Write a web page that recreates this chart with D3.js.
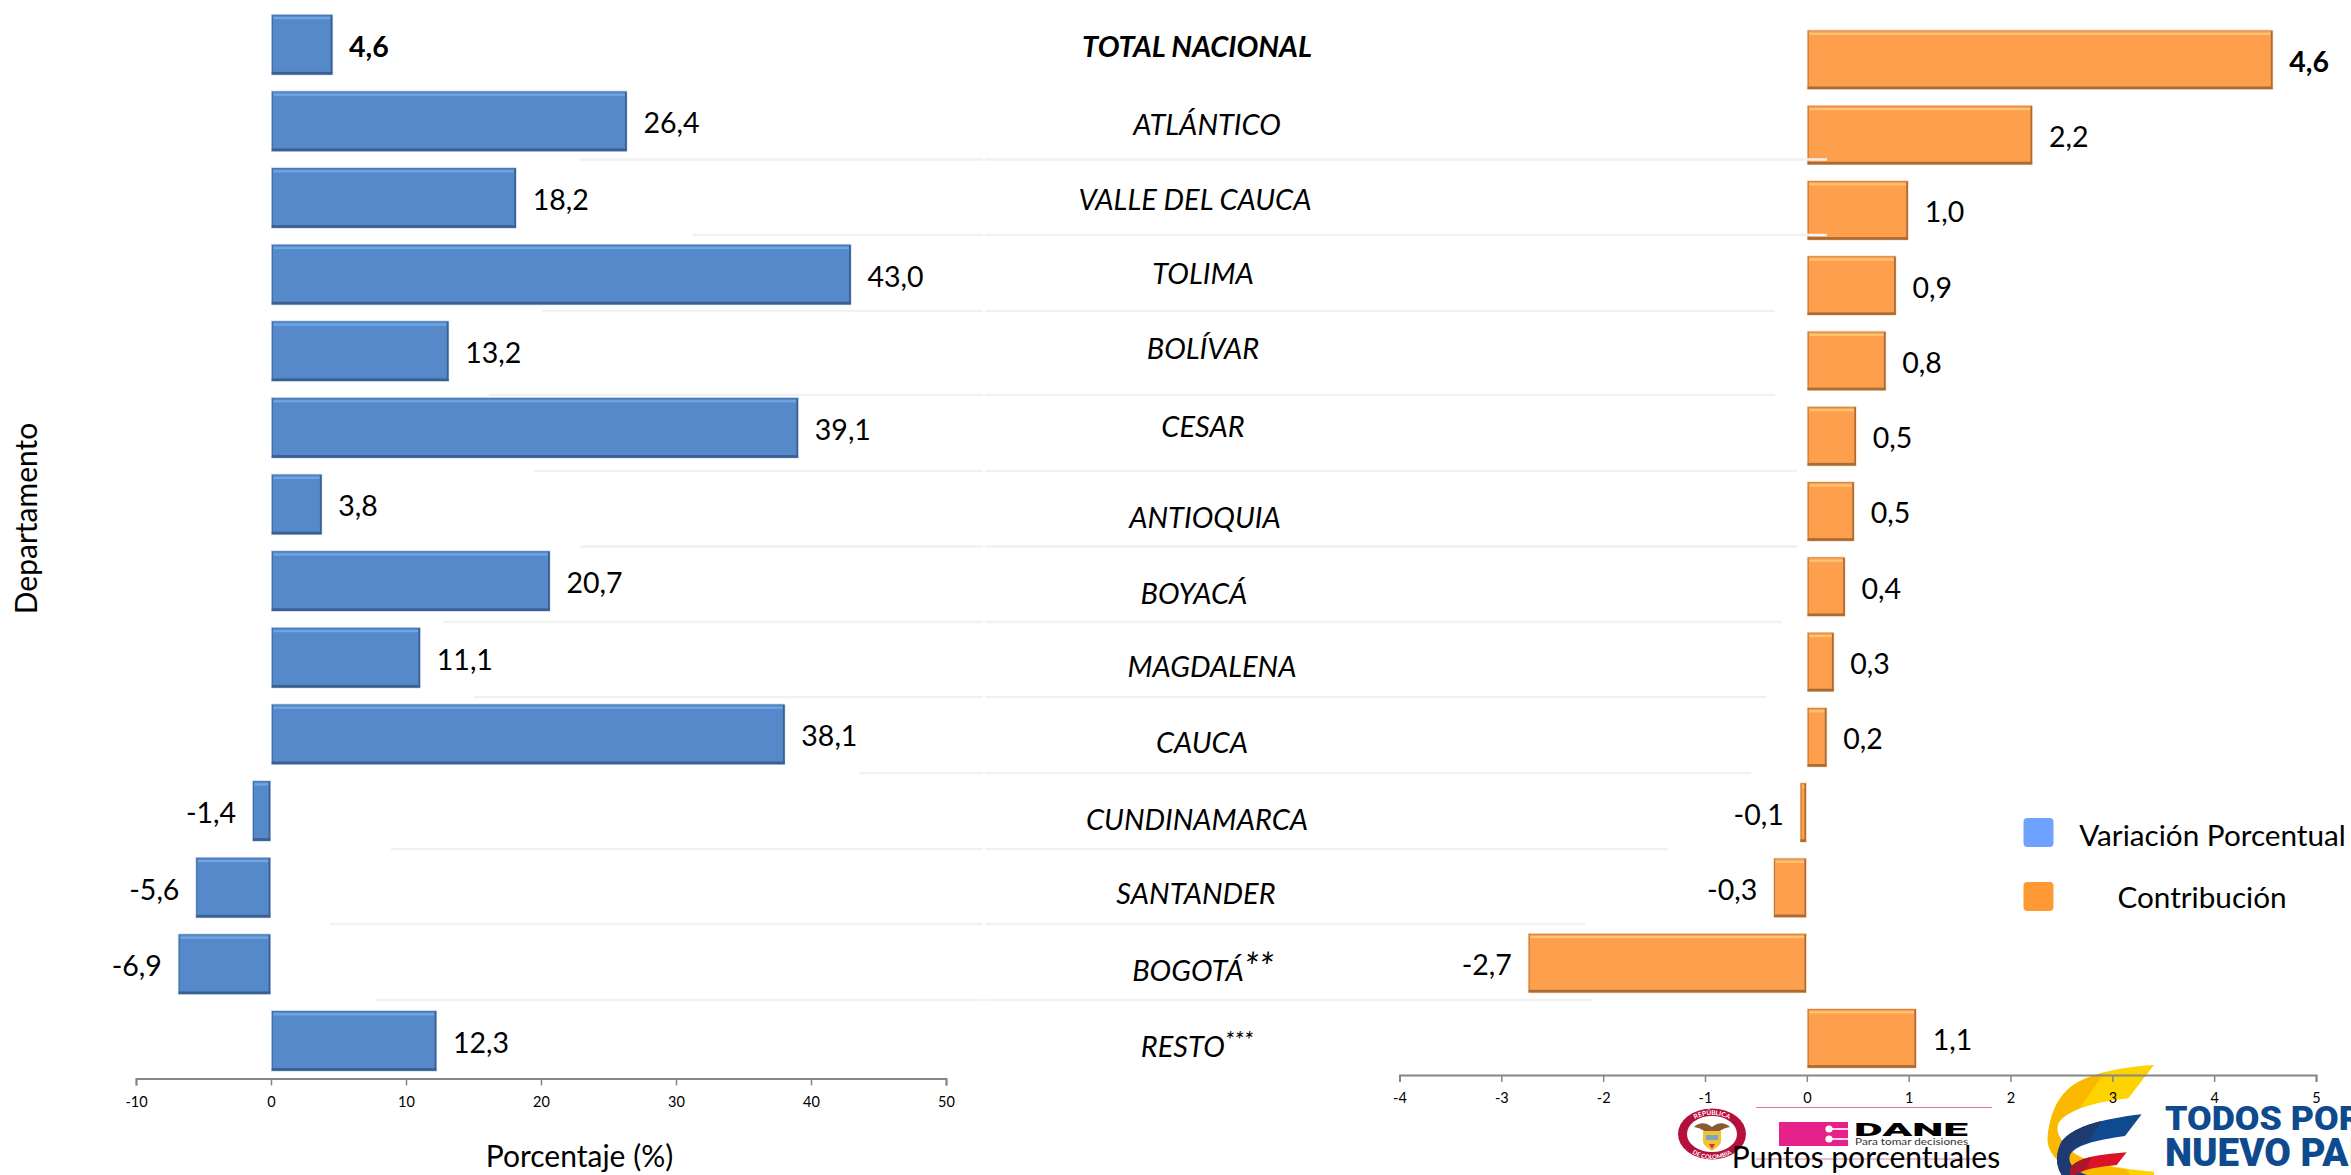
<!DOCTYPE html>
<html lang="es"><head><meta charset="utf-8">
<script src="https://cdn.jsdelivr.net/npm/d3@7/dist/d3.min.js"></script>
<style>
html,body{margin:0;padding:0;background:#fff;overflow:hidden}
svg{display:block}
text{font-family:Lato,"Open Sans",sans-serif;fill:#000}
</style></head><body>
<script>
const categories = ["TOTAL NACIONAL","ATLÁNTICO","VALLE DEL CAUCA","TOLIMA","BOLÍVAR","CESAR","ANTIOQUIA","BOYACÁ","MAGDALENA","CAUCA","CUNDINAMARCA","SANTANDER","BOGOTÁ**","RESTO"];
const variacion = [4.6,26.4,18.2,43.0,13.2,39.1,3.8,20.7,11.1,38.1,-1.4,-5.6,-6.9,12.3];
const contribucion = [4.58,2.22,1.0,0.88,0.78,0.49,0.47,0.38,0.27,0.2,-0.07,-0.33,-2.74,1.08];
const ticksLeft = [-10,0,10,20,30,40,50];
const ticksRight = [-4,-3,-2,-1,0,1,2,3,4,5];
const legendLabels = ["Variación Porcentual","Contribución"];

// layout only (hand-set text and rule positions of the slide)
const catCx = [1197,1207,1195,1203,1203,1203,1205,1194,1212,1202,1197,1196,1203,1197];
const catCy = [47,125,200,274,349,427,518,594,667,743,820,894,971,1047];
const rules = [[159.5,580,1827],[235,693,1827],[311,542,1775],[395,489,1775],[471,534,1797],[546.5,580,1797],[622,443,1782],[697,474,1766],[773,859,1751],[849,391,1668],[924,330,1585],[1000,375,1592]];

const W = 2351, H = 1175;
const svg = d3.select("body").append("svg").attr("width",W).attr("height",H).attr("viewBox",`0 0 ${W} ${H}`);
const defs = svg.append("defs");

const xL = d3.scaleLinear().domain([-10,50]).range([136,946]);
const xR = d3.scaleLinear().domain([-4,5]).range([1399.5,2316]);
const yL = d3.scaleBand().domain(categories).range([14,1071.5]).paddingInner(0.2).paddingOuter(0);
const yR = d3.scaleBand().domain(categories).range([29.7,1068.5]).paddingInner(0.2).paddingOuter(0);
const fmt = v => v.toFixed(1).replace(".",",");

/* ---------- logos (behind the axes) ---------- */
const logos = svg.append("g");
// ribbon
const rb = logos.append("g").attr("transform","translate(2030,1060) scale(0.3333)");
defs.append("clipPath").attr("id","rbclip").append("rect").attr("x",0).attr("y",0).attr("width",400).attr("height",345);
const rbg = rb.append("g").attr("clip-path","url(#rbclip)");
rbg.append("path").attr("fill","#fdd300").attr("d","M372,15 L295,115 C200,125 110,150 85,190 C75,215 90,240 120,270 C160,305 250,325 372,335 L372,345 L140,345 C80,310 50,270 53,235 C58,170 80,110 130,75 C190,35 290,20 372,15Z");
rbg.append("path").attr("fill","#fab800").attr("d","M222,38 L150,145 C115,158 95,172 85,190 C75,215 90,240 120,270 C160,305 200,318 290,328 L300,345 L140,345 C80,310 50,270 53,235 C58,170 80,110 130,75 C155,58 190,45 222,38Z");
rbg.append("path").attr("fill","#0f4a8f").attr("d","M335,163 L285,228 C200,240 130,255 118,290 C115,310 130,330 170,345 L95,345 C80,320 75,290 90,255 C110,205 220,175 335,163Z");
rbg.append("path").attr("fill","#1f3a70").attr("d","M215,183 L175,245 C140,255 122,270 118,290 C115,310 130,330 170,345 L95,345 C80,320 75,290 90,255 C105,220 160,195 215,183Z");
rbg.append("path").attr("fill","#d9142a").attr("d","M290,277 L260,315 C210,320 170,325 135,345 L122,345 C115,325 125,310 160,297 C200,285 250,280 290,277Z");
rbg.append("path").attr("fill","#a8182c").attr("d","M185,290 L168,327 C155,331 145,337 135,345 L122,345 C115,325 125,310 160,297Z");
logos.append("text").text("TODOS POR").attr("x",2165).attr("y",1129.5).attr("textLength",197).attr("lengthAdjust","spacingAndGlyphs").style("font-family","Roboto,Lato,sans-serif").style("font-weight",900).style("font-size","32.5px").style("fill","#0e4a8e");
logos.append("text").text("NUEVO PAÍS").attr("x",2165).attr("y",1166).style("font-family","Roboto,Lato,sans-serif").style("font-weight",900).style("font-size","38.5px").style("fill","#0e4a8e");

// coat of arms seal
const seal = logos.append("g").attr("transform","translate(1712,1134)");
seal.append("ellipse").attr("rx",34).attr("ry",25.5).attr("fill","#b5103c");
seal.append("ellipse").attr("rx",25).attr("ry",18).attr("fill","#fff");
seal.append("path").attr("fill","#8a5a34").attr("d","M-18,-7 C-12,-13 -5,-11 0,-7 C5,-11 12,-13 18,-7 C12,-6 7,-3 5,-1 L-5,-1 C-7,-3 -12,-6 -18,-7Z");
seal.append("path").attr("fill","#f2c230").attr("d","M-9,-3 L9,-3 L9,7 C9,12 3,14 0,17 C-3,14 -9,12 -9,7Z");
seal.append("rect").attr("x",-6).attr("y",1).attr("width",12).attr("height",5).attr("fill","#7fa3c8");
seal.append("path").attr("fill","#c83a3a").attr("d","M-3,10 L3,10 L0,15Z");
defs.append("path").attr("id","sealTop").attr("d","M-29,2 A29,21 0 0 1 29,2");
defs.append("path").attr("id","sealBot").attr("d","M-30,2 A30,23 0 0 0 30,2");
seal.append("text").append("textPath").attr("href","#sealTop").attr("startOffset","50%").text("REPÚBLICA").attr("text-anchor","middle").style("font-size","6.5px").style("font-weight",700).style("fill","#fff");
seal.append("text").append("textPath").attr("href","#sealBot").attr("startOffset","50%").text("DE COLOMBIA").attr("text-anchor","middle").style("font-size","6px").style("font-weight",700).style("fill","#fff");

// DANE
const pink = "#e6218a";
logos.append("line").attr("x1",1756).attr("x2",1992).attr("y1",1107.5).attr("y2",1107.5).attr("stroke","#e8739f").attr("stroke-width",1.2);
logos.append("line").attr("x1",1756).attr("x2",1992).attr("y1",1159).attr("y2",1159).attr("stroke","#e8739f").attr("stroke-width",1.2);
logos.append("rect").attr("x",1779).attr("y",1122).attr("width",69).attr("height",24).attr("fill",pink);
[1129,1139].forEach(cy=>{
  logos.append("circle").attr("cx",1829).attr("cy",cy).attr("r",3.6).attr("fill","#fff");
  logos.append("rect").attr("x",1829).attr("y",cy-0.8).attr("width",19).attr("height",1.6).attr("fill","#fff");
});
logos.append("text").text("DANE").attr("x",1854).attr("y",1136).attr("textLength",114).attr("lengthAdjust","spacingAndGlyphs").style("font-family","Roboto,Lato,sans-serif").style("font-weight",900).style("font-size","19px");
logos.append("text").text("Para tomar decisiones").attr("x",1855).attr("y",1145).attr("textLength",113).attr("lengthAdjust","spacingAndGlyphs").style("font-size","8.5px").style("fill","#333");

/* ---------- bevelled bars ---------- */
function bars(cls, values, x, y, c){
  const g = svg.append("g").attr("class",cls);
  const b = g.selectAll("g").data(values.map((v,i)=>({v,cat:categories[i]}))).join("g")
    .attr("transform",d=>`translate(${Math.min(x(0),x(d.v))},${y(d.cat)})`);
  const bw = y.bandwidth(), w = d=>Math.abs(x(d.v)-x(0));
  b.append("rect").attr("width",w).attr("height",bw).attr("fill",c.halo);
  b.append("rect").attr("x",0.8).attr("y",0.8).attr("width",d=>Math.max(w(d)-1.6,0.5)).attr("height",bw-1.6).attr("fill",c.edge);
  b.append("rect").attr("x",1.8).attr("y",1.4).attr("width",d=>Math.max(w(d)-3.6,0.5)).attr("height",bw-4).attr("fill",c.fill);
  b.append("rect").attr("x",2.6).attr("y",3).attr("width",d=>Math.max(w(d)-5.2,0.3)).attr("height",2.2).attr("fill",c.light);
  b.append("rect").attr("x",0.8).attr("y",bw-3.4).attr("width",d=>Math.max(w(d)-1.6,0.5)).attr("height",2.6).attr("fill",c.dark);
  b.append("rect").attr("x",d=>Math.max(w(d)-2.4,0)).attr("y",1.4).attr("width",d=>Math.min(1.6,w(d))).attr("height",bw-2.6).attr("fill",c.dark);
  g.selectAll("text").data(values.map((v,i)=>({v,cat:categories[i],i}))).join("text")
    .attr("x",d=>d.v>=0 ? x(d.v)+c.gap : x(d.v)-c.gap)
    .attr("y",d=>y(d.cat)+bw/2+12)
    .attr("text-anchor",d=>d.v>=0?"start":"end")
    .style("font-size","28.5px")
    .style("font-weight",d=>d.i===0?700:400)
    .text(d=>fmt(d.v));
}
bars("variacion",variacion,xL,yL,{halo:"#c4d6ee",edge:"#3f6a9f",fill:"#5589ca",light:"#70a6e6",dark:"#3b5f8f",gap:16});
bars("contribucion",contribucion,xR,yR,{halo:"#fbdcc0",edge:"#b87536",fill:"#fe9f4e",light:"#ffc474",dark:"#a96c35",gap:16});

/* ---------- separators ---------- */
const sep = svg.append("g").attr("stroke","#f1f1f1").attr("stroke-width",2.6).attr("fill","none");
rules.forEach(([ry,a,b])=>{
  sep.append("line").attr("x1",a).attr("x2",983).attr("y1",ry).attr("y2",ry);
  sep.append("line").attr("x1",985).attr("x2",b).attr("y1",ry).attr("y2",ry);
});

/* ---------- category labels ---------- */
svg.append("g").selectAll("text").data(categories).join("text")
  .attr("x",(d,i)=>catCx[i]).attr("y",(d,i)=>catCy[i]+10)
  .attr("text-anchor","middle")
  .style("font-size","29px").style("font-style","italic")
  .style("font-weight",(d,i)=>i===0?700:400)
  .each(function(d){
    const t=d3.select(this);
    if(d==="RESTO"){
      t.text(d);
      t.append("tspan").text("***").attr("dy",-9).style("font-size","24px");
    } else if(d.endsWith("**")){
      t.text(d.slice(0,-2));
      t.append("tspan").text("**").style("font-size","38px");
    } else t.text(d);
  });

/* ---------- axes ---------- */
function axis(x,y0,vals){
  const g = svg.append("g").attr("transform",`translate(0,${y0})`)
    .call(d3.axisBottom(x).tickValues(vals).tickSize(7).tickPadding(11).tickFormat(d=>String(d)));
  g.select(".domain").attr("stroke","#868686").attr("stroke-width",2);
  g.selectAll(".tick line").attr("stroke","#868686").attr("stroke-width",1.5);
  g.selectAll(".tick text").style("font-family","Lato,sans-serif").style("font-size","14.5px");
}
axis(xL,1078.5,ticksLeft);
axis(xR,1075,ticksRight);

/* ---------- titles ---------- */
svg.append("text").text("Porcentaje (%)").attr("x",579.5).attr("y",1167).attr("text-anchor","middle").style("font-size","30px");
svg.append("text").text("Puntos porcentuales").attr("x",1866).attr("y",1168).attr("text-anchor","middle").style("font-size","30px");
svg.append("text").text("Departamento").attr("transform","translate(37,518.5) rotate(-90)").attr("text-anchor","middle").style("font-size","30px");

/* ---------- legend ---------- */
const leg = svg.append("g");
leg.selectAll("rect").data(legendLabels).join("rect")
  .attr("x",2023.5).attr("y",(d,i)=>818+i*64).attr("width",30).attr("height",29).attr("rx",4)
  .attr("fill",(d,i)=>["#6fa1ff","#ff9933"][i]);
leg.selectAll("text").data(legendLabels).join("text")
  .attr("x",(d,i)=>[2212.5,2202][i]).attr("y",(d,i)=>[846,908][i])
  .attr("text-anchor","middle").style("font-size","29.7px").text(d=>d);
</script>
</body></html>
